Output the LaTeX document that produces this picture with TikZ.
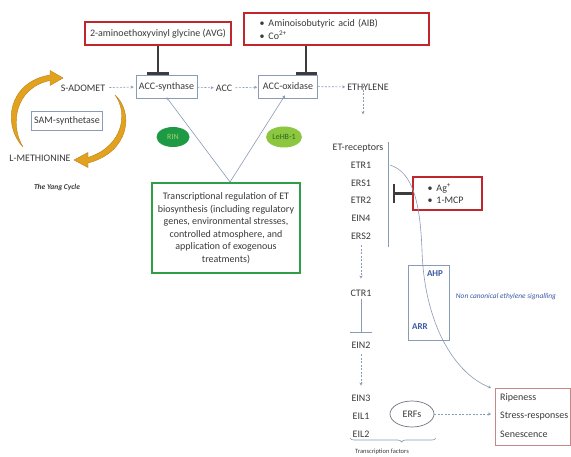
\documentclass[tikz,border=0pt]{standalone}
\usepackage{fontspec}
\setmainfont{Carlito}
\usetikzlibrary{arrows.meta,decorations.pathreplacing,shapes.geometric}
\definecolor{redb}{HTML}{C0272D}
\definecolor{greenb}{HTML}{2E9E47}
\definecolor{lineg}{HTML}{8A9BB5}
\definecolor{txt}{HTML}{3A3A3A}
\definecolor{inhib}{HTML}{3C3C3C}
\definecolor{goldc}{HTML}{E2A21E}
\definecolor{goldd}{HTML}{B8801A}
\definecolor{blueT}{HTML}{3B5BA5}
\definecolor{rinG}{HTML}{1E9A45}
\definecolor{rinT}{HTML}{9ED36A}
\definecolor{lehG}{HTML}{8DC63F}
\definecolor{lehT}{HTML}{2D6B1F}
\definecolor{resB}{HTML}{C48A8A}
\definecolor{erfB}{HTML}{6E7480}
\begin{document}
\begin{tikzpicture}[x=1pt,y=-1pt,
  font=\fontsize{10}{12}\selectfont, text=txt,
  redbox/.style={draw=redb, line width=2.2pt, inner sep=0pt},
  graybox/.style={draw=lineg, line width=0.6pt, inner sep=0pt},
  lbl/.style={inner sep=1pt},
  dasharrow/.style={draw=lineg, line width=0.6pt, dash pattern=on 2pt off 1.5pt, -{Stealth[length=3pt,width=3pt]}},
  thinarrow/.style={draw=lineg, line width=0.6pt, -{Stealth[length=3pt,width=3pt]}},
  thinline/.style={draw=lineg, line width=0.6pt},
  inhibit/.style={draw=inhib, line width=2.4pt},
  goldarrow/.style={fill=goldc, draw=goldd, line width=0.4pt}
]
\useasboundingbox (0,0) rectangle (571,457);
\fill[white] (0,0) rectangle (571,457);

% top inhibitor boxes
\node[redbox, minimum width=146pt, minimum height=23pt] (avg) at (158,33.5) {2-aminoethoxyvinyl glycine (AVG)};
\node[redbox, minimum width=185pt, minimum height=32pt, text width=154pt, inner xsep=15.5pt, align=left,
      font=\fontsize{10}{13}\selectfont] (aib) at (336.5,29)
  {\textbullet\hspace{4pt}Aminoisobutyric acid (AIB)\\\textbullet\hspace{4pt}Co\textsuperscript{2+}};

% biosynthesis row
\node[graybox, minimum width=61pt, minimum height=23pt] (accs) at (166.5,86.5) {ACC-synthase};
\node[graybox, minimum width=59pt, minimum height=23pt] (acco) at (288,86.5) {ACC-oxidase};
\node[lbl] (sadomet) at (83,88) {S-ADOMET};
\node[lbl] (acc) at (224,88) {ACC};
\node[lbl] (eth) at (368,87) {ETHYLENE};

\draw[dasharrow, shorten <=3pt, shorten >=2pt] (sadomet) -- (accs);
\draw[dasharrow, shorten >=1pt] (accs) -- (acc);
\draw[dasharrow, shorten <=2pt, shorten >=1pt] (acc) -- (acco);
\draw[dasharrow, shorten >=1pt] (acco) -- (eth);
\draw[dasharrow] ([xshift=-5pt,yshift=5pt]eth.south) -- ++(0,28);

% inhibitor bars
\coordinate (aibx) at (306,0);
\draw[inhibit, -{Bar[width=22pt]}] (avg.south) -- (avg.south |- accs.north);
\draw[inhibit, -{Bar[width=21pt]}] (aib.south -| aibx) -- (acco.north -| aibx);

% Yang cycle
\node[graybox, minimum width=71pt, minimum height=19pt] (sam) at (67,121) {SAM-synthetase};
\node[lbl] (lmet) at (40,158) {L-METHIONINE};
\node[lbl, font=\fontsize{7.5}{9}\selectfont\bfseries\itshape] (yang) at (57,188) {The Yang Cycle};
\path[goldarrow] (23,147) .. controls (2,125) and (8,82) .. (50,75) -- (50,70.5) -- (63,78) -- (50,85.5) -- (50,80.5)
   .. controls (14,88) and (10,126) .. (23,147) -- cycle;
\path[goldarrow] (115,95) .. controls (134,112) and (130,152) .. (88,163) -- (88,167.5) -- (74,160) -- (88,152.5) -- (88,157.5)
   .. controls (124,146) and (128,112) .. (115,95) -- cycle;

% transcription regulators
\node[ellipse, fill=rinG, minimum width=33pt, minimum height=20pt, inner sep=0pt, text=rinT,
      font=\fontsize{8}{9}\selectfont] (rin) at (173,137) {RIN};
\node[ellipse, fill=lehG, minimum width=36pt, minimum height=21pt, inner sep=0pt, text=lehT,
      font=\fontsize{8}{9}\selectfont] (lehb) at (284,137) {LeHB-1};
\node[draw=greenb, line width=2pt, minimum width=148pt, minimum height=90pt, inner sep=0pt, align=center,
      font=\fontsize{10}{12.5}\selectfont] (treg) at (226,228)
  {Transcriptional regulation of ET\\biosynthesis (including regulatory\\genes, environmental stresses,\\controlled atmosphere, and\\application of exogenous\\treatments)};
\draw[thinarrow] ([xshift=4pt]treg.north) -- ([yshift=1pt]accs.south);
\draw[thinarrow] ([xshift=4pt]treg.north) -- ([xshift=-3pt,yshift=3pt]acco.south);

% receptors
\node[lbl] (etrec) at (358,148) {ET-receptors};
\node[lbl] (etr1) at (361,165) {ETR1};
\node[lbl] (ers1) at (361,183) {ERS1};
\node[lbl] (etr2) at (361,200) {ETR2};
\node[lbl] (ein4) at (361,218) {EIN4};
\node[lbl] (ers2) at (361,236) {ERS2};
\coordinate (vtop) at (388,142);
\coordinate (vbot) at (388,247);
\draw[thinline] (vtop) -- (vbot);

\node[redbox, minimum width=69pt, minimum height=33pt, text width=40pt, inner xsep=14.5pt, align=left,
      font=\fontsize{10}{12}\selectfont] (ag) at (447.5,193.5)
  {\textbullet\hspace{4pt}Ag\textsuperscript{+}\\\textbullet\hspace{4pt}1-MCP};
\draw[inhibit, -{Bar[width=19pt]}, shorten >=5pt] (ag.west) -- (ag.west -| vtop);

% signalling chain
\node[lbl] (ctr1) at (361,293) {CTR1};
\node[lbl] (ein2) at (361,345) {EIN2};
\node[lbl] (ein3) at (361,398) {EIN3};
\node[lbl] (eil1) at (361,416) {EIL1};
\node[lbl] (eil2) at (361,434) {EIL2};
\draw[dasharrow, shorten <=5pt, shorten >=10pt] (ers2) -- (ctr1);
\draw[thinline, -{Bar[width=22pt]}, shorten <=2pt, shorten >=8pt] (ctr1) -- (ein2);
\draw[dasharrow, shorten <=5pt, shorten >=8pt] (ein2) -- (ein3);

% non canonical
\node[draw=lineg, line width=0.7pt, minimum width=41pt, minimum height=75pt, inner sep=0pt] (ahpbox) at (428.5,302.5) {};
\node[lbl, text=blueT, font=\fontsize{9}{10}\selectfont\bfseries] (ahp) at (435,274) {AHP};
\node[lbl, text=blueT, font=\fontsize{9}{10}\selectfont\bfseries] (arr) at (420,327) {ARR};
\node[lbl, text=blueT, font=\fontsize{7.4}{9}\selectfont\itshape] (noncan) at (506,297) {Non canonical ethylene signalling};

% responses
\node[draw=resB, line width=1pt, minimum width=75pt, minimum height=57pt, inner sep=0pt, anchor=north west] (res) at (495,388) {};
\node[lbl, anchor=west] (ripe) at (499,398) {Ripeness};
\node[lbl, anchor=west] (stress) at (499,416.5) {Stress-responses};
\node[lbl, anchor=west] (senes) at (499,434) {Senescence};

\coordinate (cstart) at (390,165);
\coordinate (cend) at (491,388);
\draw[thinarrow] (cstart) .. controls (412,172) and (420,200) .. (422,250)
   .. controls (424,320) and (452,372) .. (cend);

\node[ellipse, draw=erfB, line width=0.7pt, minimum width=44pt, minimum height=26pt, inner sep=0pt] (erfs) at (412,414) {ERFs};
\draw[dasharrow, shorten >=4pt] (erfs.east) -- (erfs.east -| res.west);

\coordinate (brl) at (350,438);
\coordinate (brr) at (436,438);
\draw[thinline, decorate, decoration={brace, mirror, amplitude=4pt, aspect=0.6}] (brl) -- (brr);
\node[lbl, font=\fontsize{6.5}{8}\selectfont] (tf) at (382,452) {Transcription factors};
\end{tikzpicture}
\end{document}
